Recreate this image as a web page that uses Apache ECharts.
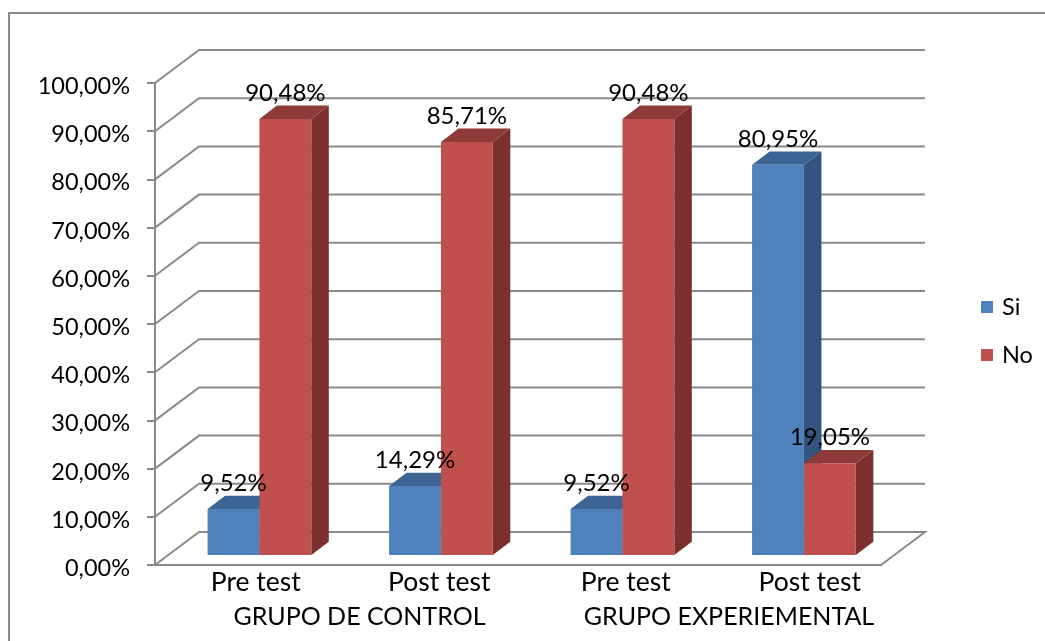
<!DOCTYPE html>
<html>
<head>
<meta charset="utf-8">
<title>Pre test / Post test</title>
<script src="https://cdn.jsdelivr.net/npm/echarts@6/dist/echarts.min.js"></script>
<style>
  html, body { margin: 0; padding: 0; background: #fff; }
  #chart { width: 1045px; height: 641px; }
</style>
</head>
<body>
<div id="chart"></div>
<script>
// datos
const categories = ['Pre test', 'Post test', 'Pre test', 'Post test'];
const groups = ['GRUPO DE CONTROL', 'GRUPO EXPERIEMENTAL'];
const siValues = [9.52, 14.29, 9.52, 80.95];
const noValues = [90.48, 85.71, 90.48, 19.05];
const yTicks = [0, 10, 20, 30, 40, 50, 60, 70, 80, 90, 100];

const FONT = 'Lato, "Open Sans", sans-serif';
const LINE = '#8a8a8a';

// profundidad del "3D": pared del fondo y barras
const WALL_DX = 44, WALL_DY = -33;
const BAR_SHIFT_X = 13.7, BAR_SHIFT_Y = -10;
const BAR_DX = 17.5, BAR_DY = -13.3;

const fmt = v => v.toFixed(2).replace('.', ',') + '%';

// lineas de la pared: diagonal lateral + horizontal del fondo
const renderWall = (params, api) => {
  const v = api.value(0);
  const left = api.coord([0, v]);
  const x0 = params.coordSys.x;
  const x1 = x0 + params.coordSys.width;
  const y = left[1];
  const points = [[x0, y], [x0 + WALL_DX, y + WALL_DY], [x1 + WALL_DX, y + WALL_DY]];
  if (v === 0) points.push([x1, y]);
  return {
    type: 'polyline',
    silent: true,
    shape: {points},
    style: {fill: 'none', stroke: LINE, lineWidth: 2}
  };
};

// barra con cara frontal, superior y lateral
const makeBarRender = (side, colors) => (params, api) => {
  const idx = api.value(0);
  const val = api.value(1);
  const top = api.coord([idx, val]);
  const base = api.coord([idx, 0]);
  const w = api.size([1, 0])[0] / 3.5; // 2 barras + gap 150%
  const x0 = top[0] + BAR_SHIFT_X + (side === 0 ? -w : 0);
  const x1 = x0 + w;
  const yt = top[1] + BAR_SHIFT_Y;
  const yb = base[1] + BAR_SHIFT_Y;
  return {
    type: 'group',
    children: [
      {
        type: 'polygon', silent: true,
        shape: {points: [[x1, yt], [x1 + BAR_DX, yt + BAR_DY], [x1 + BAR_DX, yb + BAR_DY], [x1, yb]]},
        style: {fill: colors.side}
      },
      {
        type: 'polygon', silent: true,
        shape: {points: [[x0, yt], [x0 + BAR_DX, yt + BAR_DY], [x1 + BAR_DX, yt + BAR_DY], [x1, yt]]},
        style: {fill: colors.top}
      },
      {
        type: 'rect', silent: true,
        shape: {x: x0, y: yt, width: w, height: yb - yt},
        style: {fill: colors.front}
      },
      {
        type: 'text', silent: true, z2: 100,
        style: {
          x: (x0 + x1) / 2, y: yt - 26,
          text: fmt(val),
          align: 'center', verticalAlign: 'middle',
          fontSize: 24, fontFamily: FONT, fill: '#000'
        }
      }
    ]
  };
};

// las etiquetas del eje x van desplazadas a la derecha por la profundidad
const richLabel = (size, left) => ({fontSize: size, fontFamily: FONT, color: '#000', padding: [0, 0, 0, left]});

const chart = echarts.init(document.getElementById('chart'));

chart.setOption({
  animation: false,
  backgroundColor: '#fff',
  graphic: [{
    type: 'polyline',
    silent: true,
    shape: {points: [[9, 641], [9, 13], [1045, 13]]},
    style: {fill: 'none', stroke: LINE, lineWidth: 2}
  }],
  grid: {left: 155, top: 83, width: 726, height: 482},
  legend: {
    data: ['Si', 'No'],
    orient: 'vertical',
    left: 976,
    top: 290,
    itemWidth: 12,
    itemHeight: 12,
    itemGap: 24,
    icon: 'rect',
    selectedMode: false,
    textStyle: {fontSize: 23.5, fontFamily: FONT, color: '#000', padding: [0, 0, 0, 4]}
  },
  xAxis: [
    {
      type: 'category',
      data: categories,
      axisLine: {lineStyle: {color: LINE, width: 2}},
      axisTick: {show: false},
      axisLabel: {
        interval: 0, margin: 4, color: '#000',
        fontSize: 26.5, fontFamily: FONT,
        formatter: (v, i) => `{c${i}|${v}}`,
        rich: {
          c0: richLabel(26.5, 20),
          c1: richLabel(26.5, 24),
          c2: richLabel(26.5, 34),
          c3: richLabel(26.5, 39)
        }
      }
    },
    {
      type: 'category',
      position: 'bottom',
      data: groups,
      axisLine: {show: false},
      axisTick: {show: false},
      axisLabel: {
        interval: 0, margin: 39, color: '#000',
        fontSize: 25, fontFamily: FONT,
        formatter: (v, i) => `{g${i}|${v}}`,
        rich: {
          g0: richLabel(25, 46),
          g1: richLabel(25, 59)
        }
      }
    }
  ],
  yAxis: {
    type: 'value',
    min: 0,
    max: 100,
    interval: 10,
    splitLine: {show: false},
    axisLine: {show: true, lineStyle: {color: LINE, width: 2}},
    axisTick: {show: true, length: 8, lineStyle: {color: LINE, width: 2}},
    axisLabel: {
      margin: 25, color: '#000',
      fontSize: 23.5, fontFamily: FONT,
      formatter: v => `{y|${fmt(v)}}`,
      rich: {
        y: {fontSize: 23.5, fontFamily: FONT, color: '#000', padding: [7, 0, 0, 0]}
      }
    }
  },
  series: [
    {
      name: 'pared',
      type: 'custom',
      silent: true,
      renderItem: renderWall,
      data: yTicks.map(v => [v]),
      encode: {y: 0},
      z: 1
    },
    {
      name: 'Si',
      type: 'custom',
      silent: true,
      itemStyle: {color: '#4f81bd'},
      renderItem: makeBarRender(0, {front: '#4f81bd', top: '#3e6494', side: '#33547e'}),
      data: siValues.map((v, i) => [i, v]),
      encode: {x: 0, y: 1},
      z: 2
    },
    {
      name: 'No',
      type: 'custom',
      silent: true,
      itemStyle: {color: '#c0504d'},
      renderItem: makeBarRender(1, {front: '#c0504d', top: '#8e3a38', side: '#7b302e'}),
      data: noValues.map((v, i) => [i, v]),
      encode: {x: 0, y: 1},
      z: 2
    }
  ]
});
</script>
</body>
</html>
